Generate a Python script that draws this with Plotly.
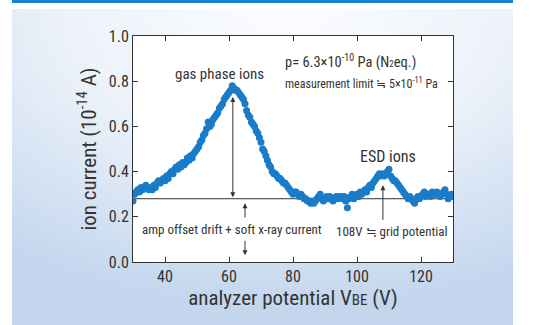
import base64
import plotly.graph_objects as go

# ---------------- data ----------------
ion_current = [
    0.27, 0.30, 0.31, 0.32, 0.31, 0.33, 0.32, 0.33, 0.34, 0.33, 0.32,
    0.33, 0.32, 0.34, 0.33, 0.35, 0.36, 0.35, 0.36, 0.37, 0.36,
    0.38, 0.37, 0.39, 0.40, 0.39, 0.41, 0.42, 0.41, 0.43, 0.42,
    0.44, 0.43, 0.44, 0.46, 0.45, 0.47, 0.46, 0.48, 0.49, 0.50,
    0.51, 0.53, 0.54, 0.56, 0.57, 0.59, 0.62, 0.60, 0.61, 0.63,
    0.64, 0.65, 0.66, 0.68, 0.69, 0.70, 0.72, 0.73, 0.74, 0.75,
    0.76, 0.78, 0.77, 0.76, 0.76, 0.75, 0.74, 0.73, 0.72, 0.70,
    0.67, 0.65, 0.64, 0.62, 0.61, 0.60, 0.58, 0.57, 0.55, 0.53,
    0.50, 0.49, 0.47, 0.45, 0.43, 0.42, 0.40, 0.39, 0.39, 0.38,
    0.37, 0.37, 0.36, 0.35, 0.35, 0.34, 0.33, 0.32, 0.31, 0.30,
    0.31, 0.31, 0.30, 0.29, 0.30, 0.29, 0.28, 0.28, 0.27, 0.27,
    0.26, 0.27, 0.26, 0.27, 0.28, 0.29, 0.30, 0.28, 0.27, 0.28,
    0.29, 0.28, 0.29, 0.28, 0.27, 0.28, 0.29, 0.28, 0.29, 0.29,
    0.28, 0.29, 0.27, 0.24, 0.28, 0.29, 0.30, 0.28, 0.29, 0.30,
    0.29, 0.31, 0.30, 0.31, 0.32, 0.31, 0.33, 0.34, 0.33, 0.35,
    0.36, 0.37, 0.38, 0.39, 0.38, 0.39, 0.38, 0.39, 0.40, 0.41,
    0.38, 0.37, 0.36, 0.36, 0.35, 0.34, 0.33, 0.32, 0.31, 0.30,
    0.29, 0.28, 0.29, 0.28, 0.27, 0.26, 0.28, 0.29, 0.28, 0.29,
    0.30, 0.31, 0.29, 0.30, 0.30, 0.29, 0.31, 0.30, 0.30, 0.31,
    0.30, 0.29, 0.30, 0.31, 0.32, 0.30, 0.28, 0.29, 0.30, 0.29,
]
v_start, v_step = 30.0, 0.5
analyzer_potential = [v_start + v_step * i for i in range(len(ion_current))]

baseline_level = 0.28
x_ticks = [40, 60, 80, 100, 120]
y_ticks = [0.0, 0.2, 0.4, 0.6, 0.8, 1.0]
y_tick_labels = ["0.0", "0.2", "0.4", "0.6", "0.8", "1.0"]

FONT = "Noto Sans Condensed, Roboto Condensed, Roboto, sans-serif"
DARK = "#333333"
BLUE = "#1a7cc8"

fig = go.Figure()

# baseline
fig.add_trace(go.Scatter(
    x=[30, 130], y=[baseline_level, baseline_level], mode="lines",
    line=dict(color=DARK, width=1), hoverinfo="skip", showlegend=False))

fig.add_trace(go.Scatter(
    x=analyzer_potential, y=ion_current, mode="markers",
    marker=dict(color=BLUE, size=7, line=dict(width=0)),
    showlegend=False))

# background panel (gradient via SVG)
svg = """<svg xmlns='http://www.w3.org/2000/svg' width='500' height='320' preserveAspectRatio='none'>
<defs><radialGradient id='g' cx='55%' cy='0%' r='95%' fx='55%' fy='0%'>
<stop offset='0%' stop-color='#fbfcfe'/><stop offset='45%' stop-color='#eef3fa'/>
<stop offset='100%' stop-color='#c3d6ee'/></radialGradient></defs>
<rect width='500' height='320' fill='url(#g)'/></svg>"""
src = "data:image/svg+xml;base64," + base64.b64encode(svg.encode()).decode()

W, H = 547, 325
ml, mr, mt, mb = 133, 94, 36, 63
pw, ph = W - ml - mr, H - mt - mb


def px2paper_x(px):
    return (px - ml) / pw


def px2paper_y(py):
    return (H - mb - py) / ph


fig.add_layout_image(dict(
    source=src, xref="paper", yref="paper",
    x=px2paper_x(12), y=px2paper_y(9),
    sizex=(513 - 12) / pw, sizey=(325 - 9) / ph,
    sizing="stretch", layer="below", xanchor="left", yanchor="top"))

# top blue line
fig.add_shape(type="rect", xref="paper", yref="paper",
              x0=px2paper_x(12), x1=px2paper_x(513),
              y0=px2paper_y(3), y1=px2paper_y(0),
              fillcolor="#1a80d0", line=dict(width=0), layer="below")
# white plotting area
fig.add_shape(type="rect", xref="paper", yref="paper", x0=0, x1=1, y0=0, y1=1,
              fillcolor="white", line=dict(width=0), layer="below")

texts = [
    dict(x=57, y=0.83, text="gas phase ions", size=15, xanchor="center"),
    dict(x=76.9, y=0.885, text="p= 6.3\u00d710<sup>-10</sup> Pa (N<span style='font-size:9px'>2</span>eq.)",
         size=14.5, xanchor="left"),
    dict(x=76.9, y=0.79, text="measurement limit \u2252 5\u00d710<sup>-11</sup> Pa",
         size=12, xanchor="left"),
    dict(x=109.7, y=0.465, text="ESD ions", size=16, xanchor="center"),
    dict(x=111, y=0.133, text="108V \u2252 grid potential", size=13, xanchor="center"),
    dict(x=61, y=0.146, text="amp offset drift + soft x-ray current", size=13, xanchor="center"),
]
for t in texts:
    size = t.pop("size")
    fig.add_annotation(xref="x", yref="y", showarrow=False, yanchor="middle",
                       font=dict(family=FONT, size=size, color=DARK), **t)

arrows = [
    # (x, tip_y, tail_y, side)
    (61.2, 0.73, baseline_level, "end+start"),
    (65.0, 0.26, 0.19, "end"),
    (65.0, 0.03, 0.10, "end"),
    (108.1, 0.34, 0.18, "end"),
]
for xa, tip, tail, side in arrows:
    fig.add_annotation(x=xa, y=tip, ax=xa, ay=tail, xref="x", yref="y",
                       axref="x", ayref="y", text="", showarrow=True,
                       arrowhead=2, arrowsize=1, arrowwidth=1, arrowside=side,
                       startarrowhead=2, startarrowsize=1, arrowcolor=DARK)

axis_common = dict(showline=True, linecolor=DARK, linewidth=1, mirror="ticks",
                   ticks="inside", ticklen=5, tickcolor=DARK, showgrid=False,
                   zeroline=False, automargin=False,
                   tickfont=dict(family=FONT, size=16, color=DARK))

fig.update_xaxes(range=[30, 130], tickvals=x_ticks,
                 title=dict(text="analyzer potential V<span style='font-size:15px'>BE</span> (V)",
                            font=dict(family=FONT, size=21, color=DARK), standoff=4),
                 **axis_common)
fig.update_yaxes(range=[0, 1.0], tickvals=y_ticks, ticktext=y_tick_labels,
                 title=dict(text="ion current (10<sup>-14</sup> A)",
                            font=dict(family=FONT, size=21, color=DARK), standoff=6),
                 **axis_common)

fig.update_layout(width=W, height=H, margin=dict(l=ml, r=mr, t=mt, b=mb, autoexpand=False),
                  paper_bgcolor="white", plot_bgcolor="rgba(0,0,0,0)",
                  showlegend=False)

fig.write_html("out.html", config={"displayModeBar": False},
               post_script="document.body.style.margin='0';document.body.style.padding='0';")
